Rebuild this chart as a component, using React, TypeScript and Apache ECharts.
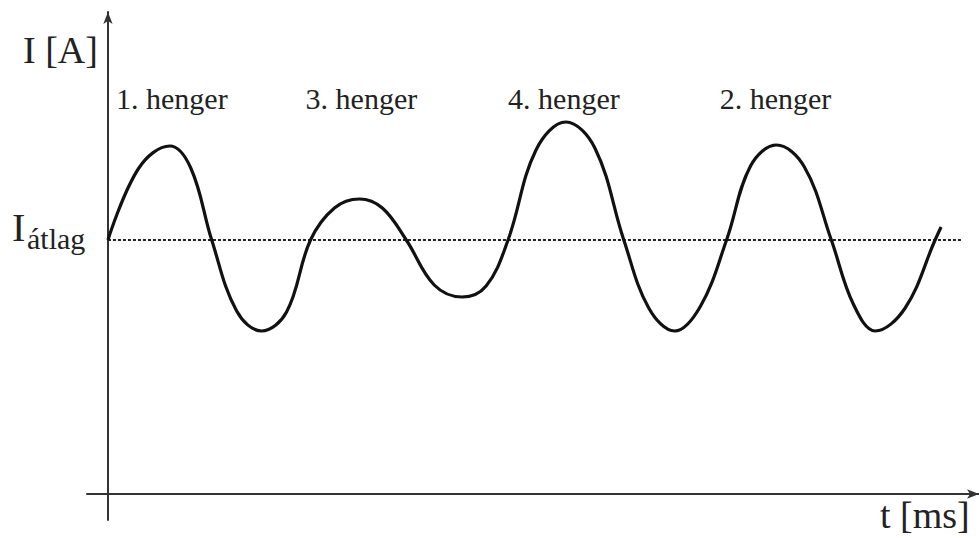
import React, { useEffect, useRef } from "react";
import * as echarts from "echarts";

// time [ms] and current [A] (arbitrary units):
// crossings of the mean, peaks/troughs and one point halfway between them
const curveT = [
  0, 1.55, 3.1, 4.15, 5.2, 6.45, 7.7, 8.95, 10.15, 11.35, 12.6, 13.75, 14.95, 16.35, 17.75, 18.95,
  20.05, 21.45, 22.95, 24.4, 25.85, 27.1, 28.4, 29.7, 31.0, 32.2, 33.5, 34.9, 36.25, 37.35, 38.45, 39.95, 41.45, 41.75,
];
const curveI = [
  25.4, 32.6, 34.8, 32.6, 25.4, 18.3, 16.3, 18.2, 25.4, 28.6, 29.5, 28.6, 25.4, 20.9, 19.7, 20.8,
  25.4, 34.4, 37.2, 34.6, 25.4, 18.6, 16.3, 18.8, 25.4, 32.8, 34.9, 32.7, 25.4, 19.0, 16.3, 18.6, 25.4, 26.7,
];

const meanCurrent = 25.4;
const meanSpan = [0, 42.75];

const cylinderLabels = ["1. henger", "3. henger", "4. henger", "2. henger"];
const cylinderPeakT = [3.2, 12.7, 22.85, 33.45];
const cylinderLabelI = 39.6;

const xRange = [-1.05, 43.65];
const yRange = [-2.6, 48.2];

const FONT = '"Liberation Serif", "Times New Roman", serif';

export default function App() {
  const ref = useRef<HTMLDivElement>(null);
  useEffect(() => {
    if (!ref.current) return;
    const chart = echarts.init(ref.current, undefined, { renderer: "svg" });
    const axisLineStyle = { color: "#333", width: 2 };
    chart.setOption({
      animation: false,
      backgroundColor: "#fff",
      grid: { left: 87, right: -4, top: 12, bottom: 18, containLabel: false },
      xAxis: {
        type: "value",
        min: xRange[0],
        max: xRange[1],
        axisLine: { show: true, onZero: true, symbol: ["none", "arrow"], symbolSize: [7, 12], lineStyle: axisLineStyle },
        axisTick: { show: false },
        axisLabel: { show: false },
        splitLine: { show: false },
      },
      yAxis: {
        type: "value",
        min: yRange[0],
        max: yRange[1],
        axisLine: { show: true, onZero: true, symbol: ["none", "arrow"], symbolSize: [7, 12], lineStyle: axisLineStyle },
        axisTick: { show: false },
        axisLabel: { show: false },
        splitLine: { show: false },
      },
      series: [
        {
          type: "line",
          data: meanSpan.map((t) => [t, meanCurrent]),
          symbol: "none",
          lineStyle: { color: "#222", width: 2, type: [3, 2] },
          silent: true,
        },
        {
          type: "line",
          data: curveT.map((t, i) => [t, curveI[i]]),
          smooth: 0.38,
          symbol: "none",
          lineStyle: { color: "#111", width: 3.2 },
        },
      ],
    });

    const labelTexts = cylinderLabels.map((name, i) => {
      const [px, py] = chart.convertToPixel({ gridIndex: 0 }, [cylinderPeakT[i], cylinderLabelI]) as number[];
      return {
        type: "text",
        x: px,
        y: py,
        style: { text: name, font: `30px ${FONT}`, fill: "#222", align: "center", verticalAlign: "middle" },
      };
    });

    chart.setOption({
      graphic: [
        ...labelTexts,
        { type: "text", x: 23, y: 50, style: { text: "I [A]", font: `38px ${FONT}`, fill: "#222", verticalAlign: "middle" } },
        { type: "text", x: 880, y: 515, style: { text: "t [ms]", font: `38px ${FONT}`, fill: "#222", verticalAlign: "middle" } },
        { type: "text", x: 12, y: 227, style: { text: "I", font: `40px ${FONT}`, fill: "#222", verticalAlign: "middle" } },
        { type: "text", x: 27, y: 238, style: { text: "átlag", font: `30px ${FONT}`, fill: "#222", verticalAlign: "middle" } },
      ],
    });
    return () => chart.dispose();
  }, []);
  return <div ref={ref} style={{ position: "absolute", left: 0, top: 0, width: 979, height: 538 }} />;
}
